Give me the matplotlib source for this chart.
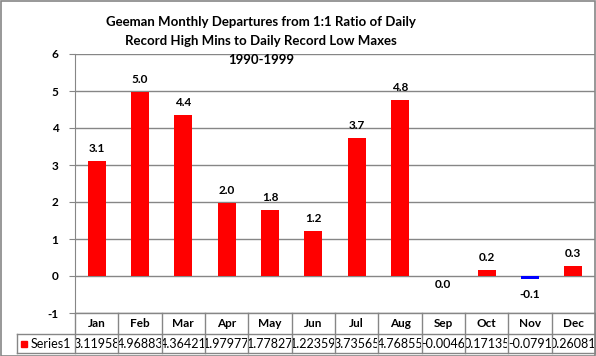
import matplotlib
matplotlib.use("Agg")
import matplotlib.pyplot as plt
from matplotlib.patches import Rectangle
from matplotlib.transforms import Bbox

months = ["Jan", "Feb", "Mar", "Apr", "May", "Jun", "Jul", "Aug", "Sep", "Oct", "Nov", "Dec"]
values = [3.11958, 4.96883, 4.36421, 1.97977, 1.77827, 1.22359, 3.73565, 4.76855,
          -0.0046, 0.17135, -0.0791, 0.26081]
series_name = "Series1"
title_lines = ["Geeman Monthly Departures from 1:1 Ratio of Daily",
               "Record High Mins to Daily Record Low Maxes",
               "1990-1999"]
yticks = [-1, 0, 1, 2, 3, 4, 5, 6]

W, H = 596, 356
plt.rcParams['font.family'] = ['Lato', 'DejaVu Sans']
fig = plt.figure(figsize=(W / 100, H / 100), dpi=100)

def fx(px):
    return px / W

def fy(py):
    return 1 - py / H

left, right, top, bottom = 75, 595, 54, 313
ax = fig.add_axes([fx(left), fy(bottom), fx(right - left), (bottom - top) / H])
grid_c = "#868686"
x = list(range(len(months)))
colors = ["#0000FF" if v < -0.01 else "#FF0000" for v in values]
ax.bar(x, values, width=0.42, color=colors, zorder=3)
ax.set_xlim(-0.5, len(months) - 0.5)
ax.set_ylim(-1, 6)
ax.set_yticks(yticks)
ax.set_yticklabels([str(t) for t in yticks], fontsize=8.5, fontweight='bold')
ax.tick_params(axis='y', length=4, color=grid_c, pad=8)
ax.set_xticks([])
for t in yticks:
    ax.axhline(t, color=grid_c, lw=1, zorder=1)
for s in ["top", "right", "bottom"]:
    ax.spines[s].set_visible(False)
ax.spines["left"].set_color(grid_c)

for xi, v in zip(x, values):
    off = 9 if v >= 0 else -11
    if -0.01 < v < 0:
        off = -6
    label = f"{round(v, 1) + 0.0:.1f}"
    ax.annotate(label, (xi, v),
                xytext=(0, off), textcoords="offset points",
                ha="center", va="center", fontsize=8.5, fontweight='bold')

# Title
for i, line in enumerate(title_lines):
    fig.text(fx(261), fy(22 + i * 19), line, ha="center", va="center",
             fontsize=9.5, fontweight='bold')

# Data table
row1_top, row1_bot, row2_bot = 313, 334, 353
tab_left = 17
col_w = (right - left) / len(months)
lc = dict(color=grid_c, lw=1)
fig.add_artist(plt.Line2D([fx(left), fx(right)], [fy(row1_top)] * 2, **lc))
fig.add_artist(plt.Line2D([fx(tab_left), fx(right)], [fy(row1_bot)] * 2, **lc))
fig.add_artist(plt.Line2D([fx(tab_left), fx(right)], [fy(row2_bot)] * 2, **lc))
fig.add_artist(plt.Line2D([fx(tab_left)] * 2, [fy(row1_bot), fy(row2_bot)], **lc))
for i in range(len(months) + 1):
    xx = left + i * col_w
    fig.add_artist(plt.Line2D([fx(xx)] * 2, [fy(row1_top), fy(row2_bot)], **lc))
for i, (m, v) in enumerate(zip(months, values)):
    cx = left + (i + 0.5) * col_w
    fig.text(fx(cx), fy((row1_top + row1_bot) / 2), m, ha="center", va="center",
             fontsize=8.5, fontweight='bold')
    t = fig.text(fx(cx), fy((row1_bot + row2_bot) / 2), f"{v:g}", ha="center", va="center",
                 fontsize=9)
    clip = Bbox([[left + i * col_w + 1, H - row2_bot], [left + (i + 1) * col_w - 1, H - row1_bot]])
    t.set_clip_box(clip)
    t.set_clip_on(True)

fig.add_artist(Rectangle((fx(21), fy(347)), fx(6), 6 / H, color="#FF0000",
                         transform=fig.transFigure))
fig.text(fx(31), fy((row1_bot + row2_bot) / 2), series_name, ha="left", va="center",
         fontsize=9)

# Outer border
fig.add_artist(Rectangle((0.001, 0.001), 0.997, 0.997, fill=False, ec=grid_c, lw=1.2,
                         transform=fig.transFigure))

fig.savefig("out.png", dpi=100)
